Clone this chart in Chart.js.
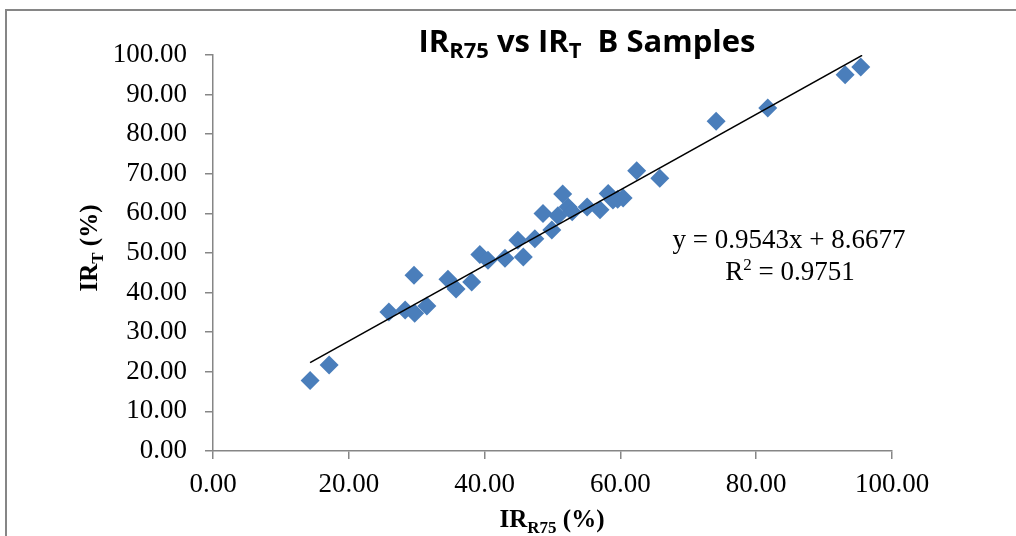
<!DOCTYPE html>
<html>
<head>
<meta charset="utf-8">
<script src="https://cdn.jsdelivr.net/npm/chart.js@4/dist/chart.umd.min.js"></script>
<style>
  html, body { margin: 0; padding: 0; background: #ffffff; }
  #wrap { width: 1016px; height: 536px; position: relative; }
</style>
</head>
<body>
<div id="wrap"><canvas id="c" width="1016" height="536"></canvas></div>
<script>
// ---- Data ----
const irR75 = [14.3, 17.1, 25.9, 28.3, 29.7, 31.5, 29.6, 34.6, 35.8, 38.1,
               39.3, 40.5, 43.0, 44.9, 45.7, 47.4, 49.9, 48.6, 51.5, 50.8,
               52.3, 52.9, 55.1, 57.0, 58.2, 58.9, 59.6, 60.4, 62.4, 65.8,
               74.1, 81.7, 93.1, 95.4];
const irT   = [17.8, 21.7, 35.1, 35.6, 34.8, 36.6, 44.4, 43.4, 40.9, 42.7,
               49.6, 48.2, 48.7, 53.2, 49.0, 53.6, 55.8, 60.0, 64.9, 59.4,
               61.6, 60.4, 61.6, 60.9, 65.0, 63.4, 63.6, 63.9, 70.8, 68.9,
               83.3, 86.6, 95.0, 97.0];
const trendSlope = 0.9543;
const trendIntercept = 8.6677;
const trendRange = [14.3, 95.6];
const rSquared = 0.9751;
const yTicks = [0, 10, 20, 30, 40, 50, 60, 70, 80, 90, 100];
const xTicks = [0, 20, 40, 60, 80, 100];

const points = irR75.map((x, i) => ({ x: x, y: irT[i] }));
const trendPts = trendRange.map(x => ({ x: x, y: trendSlope * x + trendIntercept }));

const AXIS = '#868686';
const SERIF = '"Liberation Serif", "Times New Roman", serif';
const SANS = '"Open Sans", Lato, sans-serif';

function drawRich(ctx, parts, x, y, align) {
  let total = 0;
  parts.forEach(p => { ctx.font = p.font; p.w = ctx.measureText(p.text).width; total += p.w; });
  let cx = align === 'center' ? x - total / 2 : (align === 'right' ? x - total : x);
  ctx.textAlign = 'left';
  ctx.textBaseline = 'alphabetic';
  parts.forEach(p => {
    ctx.font = p.font;
    ctx.fillText(p.text, cx, y + (p.dy || 0));
    cx += p.w;
  });
}

const decor = {
  id: 'decor',
  afterDraw(chart) {
    const ctx = chart.ctx;
    ctx.save();
    // outer frame (top and left edges visible)
    ctx.strokeStyle = AXIS;
    ctx.lineWidth = 2;
    ctx.beginPath();
    ctx.moveTo(6, 536);
    ctx.lineTo(6, 10);
    ctx.lineTo(1016, 10);
    ctx.stroke();

    ctx.fillStyle = '#000000';
    // chart title
    drawRich(ctx, [
      { text: 'IR', font: 'bold 31px ' + SANS },
      { text: 'R75', font: 'bold 22px ' + SANS, dy: 6 },
      { text: ' vs IR', font: 'bold 31px ' + SANS },
      { text: 'T', font: 'bold 22px ' + SANS, dy: 6 },
      { text: '  B Samples', font: 'bold 31px ' + SANS }
    ], 587, 52, 'center');

    // x axis title
    drawRich(ctx, [
      { text: 'IR', font: 'bold 25px ' + SERIF },
      { text: 'R75', font: 'bold 17px ' + SERIF, dy: 6 },
      { text: ' (%)', font: 'bold 25px ' + SERIF }
    ], 552, 527, 'center');

    // y axis title (rotated)
    ctx.save();
    ctx.translate(97, 248);
    ctx.rotate(-Math.PI / 2);
    drawRich(ctx, [
      { text: 'IR', font: 'bold 25px ' + SERIF },
      { text: 'T', font: 'bold 17px ' + SERIF, dy: 6 },
      { text: ' (%)', font: 'bold 25px ' + SERIF }
    ], 0, 0, 'center');
    ctx.restore();

    // trendline equation
    drawRich(ctx, [
      { text: 'y = ' + trendSlope.toFixed(4) + 'x + ' + trendIntercept.toFixed(4), font: '27px ' + SERIF }
    ], 789, 248, 'center');
    drawRich(ctx, [
      { text: 'R', font: '27px ' + SERIF },
      { text: '2', font: '17px ' + SERIF, dy: -10 },
      { text: ' = ' + rSquared.toFixed(4), font: '27px ' + SERIF }
    ], 790, 280, 'center');
    ctx.restore();
  }
};

new Chart(document.getElementById('c'), {
  type: 'scatter',
  data: {
    datasets: [
      {
        type: 'line',
        label: 'Trend',
        data: trendPts,
        borderColor: '#000000',
        borderWidth: 1.6,
        pointRadius: 0,
        fill: false,
        order: 0
      },
      {
        label: 'B Samples',
        data: points,
        pointStyle: 'rectRot',
        pointRadius: 9.5,
        pointHoverRadius: 9.5,
        backgroundColor: '#4A7EBB',
        borderColor: '#4A7EBB',
        borderWidth: 0,
        order: 1
      }
    ]
  },
  options: {
    responsive: false,
    animation: false,
    devicePixelRatio: 1,
    layout: { padding: { top: 55, right: 124, bottom: 0, left: 0 } },
    plugins: {
      legend: { display: false },
      title: { display: false },
      tooltip: { enabled: false }
    },
    scales: {
      x: {
        type: 'linear',
        min: 0, max: 100,
        afterFit(scale) { scale.height = 85; },
        afterBuildTicks(scale) { scale.ticks = xTicks.map(v => ({ value: v })); },
        ticks: {
          color: '#000000',
          font: { family: SERIF, size: 27 },
          padding: 10,
          callback: v => Number(v).toFixed(2)
        },
        grid: { drawOnChartArea: false, drawTicks: true, tickLength: 8, color: AXIS, lineWidth: 1.5 },
        border: { display: true, color: AXIS, width: 1.5 }
      },
      y: {
        type: 'linear',
        min: 0, max: 100,
        afterFit(scale) { scale.width = 213; },
        afterBuildTicks(scale) { scale.ticks = yTicks.map(v => ({ value: v })); },
        ticks: {
          color: '#000000',
          font: { family: SERIF, size: 27 },
          padding: 18,
          callback: v => Number(v).toFixed(2)
        },
        grid: { drawOnChartArea: false, drawTicks: true, tickLength: 8, color: AXIS, lineWidth: 1.5 },
        border: { display: true, color: AXIS, width: 1.5 }
      }
    }
  },
  plugins: [decor]
});
</script>
</body>
</html>
